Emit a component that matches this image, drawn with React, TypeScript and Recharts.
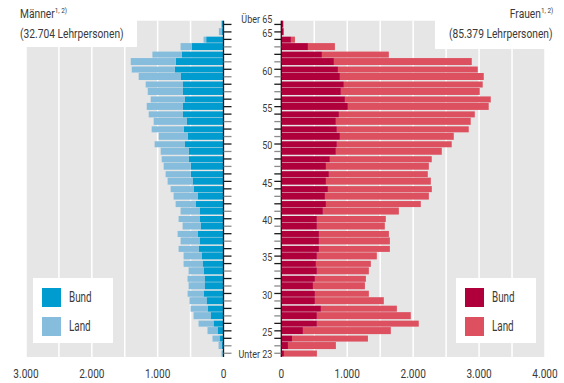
import React from 'react';
import { Bar, BarChart, CartesianGrid, XAxis, YAxis } from 'recharts';

const ages = [
  'Über 65', '65', '64', '63', '62', '61', '60', '59', '58', '57', '56', '55', '54', '53', '52',
  '51', '50', '49', '48', '47', '46', '45', '44', '43', '42', '41', '40', '39', '38', '37',
  '36', '35', '34', '33', '32', '31', '30', '29', '28', '27', '26', '25', '24', '23', 'Unter 23',
];

const menBund = [
  25, 30, 263, 485, 636, 727, 742, 652, 621, 621, 591, 621, 621, 561, 606,
  545, 591, 530, 530, 500, 500, 470, 455, 394, 424, 364, 364, 348, 394, 364,
  379, 333, 318, 303, 288, 288, 303, 258, 242, 197, 152, 91, 61, 30, 15,
];
const menLand = [
  10, 40, 40, 167, 444, 682, 652, 636, 561, 530, 515, 545, 515, 500, 485,
  440, 455, 424, 409, 409, 379, 379, 348, 364, 303, 288, 318, 273, 303, 288,
  303, 273, 288, 227, 258, 242, 242, 258, 258, 258, 227, 152, 106, 45, 15,
];
const womenBund = [
  30, 35, 146, 404, 616, 798, 859, 889, 949, 904, 965, 1010, 874, 828, 843,
  889, 843, 828, 737, 677, 722, 677, 707, 662, 677, 631, 540, 540, 571, 571,
  571, 540, 525, 540, 510, 480, 510, 510, 601, 540, 540, 328, 162, 101, 40,
];
const womenLand = [
  0, 5, 61, 409, 1015, 2091, 2121, 2182, 2106, 2106, 2212, 2136, 2061, 2045, 2000,
  1727, 1742, 1606, 1545, 1561, 1500, 1591, 1576, 1576, 1439, 1152, 1045, 1030, 1061, 1076,
  1076, 909, 833, 788, 773, 788, 818, 1045, 1152, 1424, 1545, 1333, 1152, 727, 500,
];

const labeledAges = ['Über 65', '65', '60', '55', '50', '45', '40', '35', '30', '25', 'Unter 23'];
const menTicks = [0, 500, 1000, 1500, 2000, 2500, 3000];
const womenTicks = [0, 500, 1000, 1500, 2000, 2500, 3000, 3500, 4000];

// no condensed face installed, so Roboto gets squeezed horizontally
const FONT = "Roboto, 'Liberation Sans', sans-serif";
const TEXT = '#3a3a3a';
const GRAY_BG = '#e6e6e6';
const C = {
  menBund: '#009ccf',
  menLand: '#86bcdc',
  womenBund: '#b0003c',
  womenLand: '#dc505f',
};

const menData = ages.map((age, i) => ({ age, bund: menBund[i], land: menLand[i] }));
const womenData = ages.map((age, i) => ({ age, bund: womenBund[i], land: womenLand[i] }));

const fmt = (v: number) => (v % 1000 !== 0 ? '' : v === 0 ? '0' : `${v / 1000}.000`);

function tickColor(age: string) {
  if (age === 'Über 65') return '#1a1a1a';
  const n = Number(age);
  if (Number.isNaN(n)) return '#8a8a8a';
  return n % 2 === 0 || n % 5 === 0 ? '#1a1a1a' : '#8a8a8a';
}

// bars in pairs: thin white seam above every second row
function RowBar(props: any) {
  const { x, y, width, height, fill, payload } = props;
  if (!width) return null;
  const x0 = width < 0 ? x + width : x;
  const w = Math.abs(width);
  const idx = ages.indexOf(payload.age);
  const gap = idx > 0 && idx % 2 === 0 ? 1 : 0;
  return <rect x={x0} y={y + gap} width={w} height={Math.max(height - gap, 0)} fill={fill} />;
}

function LeftTick(props: any) {
  const { x, y, payload } = props;
  return <line x1={x - 8} x2={x} y1={y} y2={y} stroke={tickColor(payload.value)} strokeWidth={1.3} />;
}

function RightTick(props: any) {
  const { x, y, payload } = props;
  const v = payload.value as string;
  const show = labeledAges.includes(v);
  const ty = v === 'Über 65' ? y - 6 : v === 'Unter 23' ? y : y + 1;
  return (
    <g>
      <line x1={x + 2} x2={x + 9} y1={y} y2={y} stroke={tickColor(v)} strokeWidth={1.3} />
      {show && (
        <text
          transform={`translate(${x},${ty}) scale(0.76,1)`}
          dy="0.36em"
          textAnchor="end"
          fontSize={11.8}
          fontFamily={FONT}
          fill={TEXT}
        >
          {v}
        </text>
      )}
    </g>
  );
}

function XTick(props: any) {
  const { x, y, payload } = props;
  const label = fmt(payload.value);
  if (!label) return null;
  return (
    <text
      transform={`translate(${x},${y}) scale(0.84,1)`}
      dy="0.71em"
      textAnchor="middle"
      fontSize={12}
      fontFamily={FONT}
      fill={TEXT}
    >
      {label}
    </text>
  );
}

function Squeezed({ children, scale, origin, size }: { children: React.ReactNode; scale: number; origin: string; size: number }) {
  return (
    <span
      style={{
        display: 'inline-block',
        transform: `scaleX(${scale})`,
        transformOrigin: origin,
        fontSize: size,
        color: TEXT,
        whiteSpace: 'nowrap',
      }}
    >
      {children}
    </span>
  );
}

function LegendBox({ left, bund, land }: { left: number; bund: string; land: string }) {
  const item = (color: string, label: string, top: number) => (
    <div style={{ position: 'absolute', left: 9, top, display: 'flex', alignItems: 'center' }}>
      <div style={{ width: 19, height: 19, background: color }} />
      <div style={{ marginLeft: 8, lineHeight: '19px' }}>
        <Squeezed scale={0.68} origin="left" size={14.5}>{label}</Squeezed>
      </div>
    </div>
  );
  return (
    <div style={{ position: 'absolute', left, top: 278, width: 80, height: 65, background: '#fff' }}>
      {item(bund, 'Bund', 9)}
      {item(land, 'Land', 38)}
    </div>
  );
}

export default function App() {
  return (
    <div
      style={{
        position: 'absolute',
        left: 0,
        top: 0,
        width: 564,
        height: 383,
        background: '#fff',
        fontFamily: FONT,
        overflow: 'hidden',
      }}
    >
      <div style={{ position: 'absolute', left: 0, top: 0 }}>
        <BarChart
          width={240}
          height={383}
          data={menData}
          layout="vertical"
          barCategoryGap={0}
          margin={{ top: 20.7, right: 0, bottom: 0, left: 26 }}
        >
          <CartesianGrid horizontal={false} stroke="#fff" strokeWidth={1.5} fill={GRAY_BG} />
          <XAxis
            type="number"
            domain={[0, 3000]}
            ticks={menTicks}
            reversed
            axisLine={false}
            tickLine={false}
            tickSize={0}
            tickMargin={12}
            height={26}
            interval={0}
            tick={(p: any) => <XTick {...p} />}
          />
          <YAxis
            type="category"
            dataKey="age"
            orientation="right"
            width={16.5}
            interval={0}
            tickSize={8}
            tickMargin={0}
            tickLine={false}
            axisLine={{ stroke: '#1a1a1a', strokeWidth: 1.3 }}
            tick={(p: any) => <LeftTick {...p} />}
          />
          <Bar dataKey="bund" stackId="m" fill={C.menBund} shape={<RowBar />} isAnimationActive={false} />
          <Bar dataKey="land" stackId="m" fill={C.menLand} shape={<RowBar />} isAnimationActive={false} />
        </BarChart>
      </div>

      <div style={{ position: 'absolute', left: 222, top: 0 }}>
        <BarChart
          width={342}
          height={383}
          data={womenData}
          layout="vertical"
          barCategoryGap={0}
          margin={{ top: 20.7, right: 19, bottom: 0, left: 0 }}
        >
          <CartesianGrid horizontal={false} stroke="#fff" strokeWidth={1.5} fill={GRAY_BG} />
          <XAxis
            type="number"
            domain={[0, 4000]}
            ticks={womenTicks}
            axisLine={false}
            tickLine={false}
            tickSize={0}
            tickMargin={12}
            height={26}
            interval={0}
            tick={(p: any) => <XTick {...p} />}
          />
          <YAxis
            type="category"
            dataKey="age"
            orientation="left"
            width={59.3}
            interval={0}
            tickSize={7}
            tickMargin={2}
            tickLine={false}
            axisLine={{ stroke: '#1a1a1a', strokeWidth: 1.3 }}
            tick={(p: any) => <RightTick {...p} />}
          />
          <Bar dataKey="bund" stackId="w" fill={C.womenBund} shape={<RowBar />} isAnimationActive={false} />
          <Bar dataKey="land" stackId="w" fill={C.womenLand} shape={<RowBar />} isAnimationActive={false} />
        </BarChart>
      </div>

      {/* title boxes */}
      <div style={{ position: 'absolute', left: 0, top: 0, width: 137, height: 47, background: '#fff' }}>
        <div style={{ position: 'absolute', left: 20, top: 3, lineHeight: '16px' }}>
          <Squeezed scale={0.8} origin="left" size={12.8}>
            Männer<sup style={{ fontSize: 8, verticalAlign: 5 }}>1, 2)</sup>
          </Squeezed>
        </div>
        <div style={{ position: 'absolute', left: 20, top: 25, lineHeight: '16px' }}>
          <Squeezed scale={0.8} origin="left" size={12.8}>(32.704 Lehrpersonen)</Squeezed>
        </div>
      </div>
      <div style={{ position: 'absolute', left: 435, top: 0, width: 129, height: 49, background: '#fff' }}>
        <div style={{ position: 'absolute', right: 11, top: 3, lineHeight: '16px' }}>
          <Squeezed scale={0.8} origin="right" size={12.8}>
            Frauen<sup style={{ fontSize: 8, verticalAlign: 5 }}>1, 2)</sup>
          </Squeezed>
        </div>
        <div style={{ position: 'absolute', right: 11, top: 25, lineHeight: '16px' }}>
          <Squeezed scale={0.8} origin="right" size={12.8}>(85.379 Lehrpersonen)</Squeezed>
        </div>
      </div>

      <LegendBox left={33} bund={C.menBund} land={C.menLand} />
      <LegendBox left={456} bund={C.womenBund} land={C.womenLand} />
    </div>
  );
}
